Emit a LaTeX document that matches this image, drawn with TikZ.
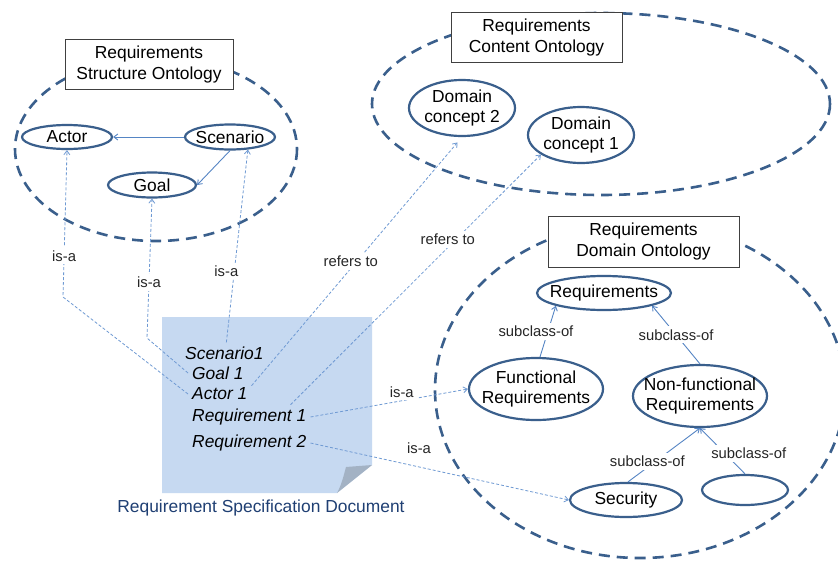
\documentclass[tikz,border=0pt]{standalone}
\usepackage{fontspec}
\setmainfont{Liberation Sans}
\usetikzlibrary{shapes.geometric,arrows.meta}
\definecolor{ontoblue}{HTML}{3A5F8C}
\definecolor{linkblue}{HTML}{6F9AD3}
\definecolor{arrblue}{HTML}{5585C4}
\definecolor{docfill}{HTML}{C6D9F1}
\definecolor{foldcol}{HTML}{A3B2C4}
\definecolor{captcol}{HTML}{1F3F73}
\begin{document}
\begin{tikzpicture}[x=1pt,y=-1pt,
  font=\fontsize{17.4}{21}\selectfont,
  group/.style={draw=ontoblue, line width=2.6pt, dash pattern=on 11pt off 7pt},
  titlebox/.style={draw=black!75, fill=white, line width=0.8pt, align=center, inner sep=0pt},
  concept/.style={ellipse, draw=ontoblue, line width=2.2pt, fill=white, inner sep=0pt},
  ctext/.style={align=center, inner sep=0pt, font=\fontsize{17.4}{20}\selectfont},
  doctext/.style={anchor=west, inner sep=4pt, font=\fontsize{17.4}{20}\selectfont\itshape},
  link/.style={draw=linkblue, line width=0.8pt, dash pattern=on 3pt off 2pt,
    -{Straight Barb[length=4pt,width=6pt]}},
  sub/.style={draw=arrblue, line width=0.9pt, -{Straight Barb[length=4pt,width=6pt]}},
  elabel/.style={fill=white, inner sep=3pt, text=black!85, font=\fontsize{14.8}{17}\selectfont}]
\useasboundingbox (0,0) rectangle (838,560);
\fill[white] (0,0) rectangle (838,560);

% ontology groups
\draw[group] (156,149) ellipse [x radius=141, y radius=92];
\draw[group] (601,104) ellipse [x radius=229, y radius=91];
\draw[group] (640,390) ellipse [x radius=205, y radius=168];

\node[titlebox, minimum width=168pt, minimum height=50pt] (tstruct) at (149,64) {Requirements\\Structure Ontology};
\node[titlebox, minimum width=171pt, minimum height=50pt] (tcontent) at (536.5,37) {Requirements\\Content Ontology};
\node[titlebox, minimum width=191pt, minimum height=51pt] (tdomain) at (643.5,241.5) {Requirements\\Domain Ontology};

% concepts
\node[concept, minimum width=90pt, minimum height=24pt, label={[ctext]center:Actor}] (actor) at (67,137) {};
\node[concept, minimum width=90pt, minimum height=25pt, label={[ctext]center:Scenario}] (scen) at (230,137) {};
\node[concept, minimum width=88pt, minimum height=25pt, label={[ctext]center:Goal}] (goal) at (152,185) {};
\node[concept, minimum width=106pt, minimum height=56pt, label={[ctext]center:Domain\\concept 2}] (dc2) at (462,108) {};
\node[concept, minimum width=106pt, minimum height=56pt, label={[ctext]center:Domain\\concept 1}] (dc1) at (581,135) {};
\node[concept, minimum width=134pt, minimum height=34pt, label={[ctext]center:Requirements}] (req) at (604,293) {};
\node[concept, minimum width=134pt, minimum height=62pt, label={[ctext]center:Functional\\Requirements}] (fr) at (536,389) {};
\node[concept, minimum width=134pt, minimum height=62pt, label={[ctext]center:Non-functional\\Requirements}] (nf) at (700,396) {};
\node[concept, minimum width=112pt, minimum height=34pt, label={[ctext]center:Security}] (sec) at (626,500) {};
\node[concept, minimum width=86pt, minimum height=30pt] (emp) at (745,490) {};

% document
\fill[docfill] (162,317) -- (372,317) -- (372,465) -- (337,493) -- (162,493) -- cycle;
\fill[foldcol] (337,493) .. controls (342,484) and (344,474) .. (346,467) -- (372,465) -- cycle;
\node[doctext] (s1) at (181,353) {Scenario1};
\node[doctext] (g1) at (188,373) {Goal 1};
\node[doctext] (a1) at (188,394) {Actor 1};
\node[doctext] (r1) at (188,417) {Requirement 1};
\node[doctext] (r2) at (188,443) {Requirement 2};
\node[text=captcol] (cap) at (261,508) {Requirement Specification Document};

% structure relations
\draw[sub] (scen.west) -- (actor.east);
\draw[sub] (scen.south) -- (goal.east);

% domain relations
\draw[sub] ([xshift=4pt]fr.north) -- node[elabel, xshift=-12pt]{subclass-of} (req.south west);
\draw[sub] (nf.north) -- node[elabel]{subclass-of} (req.south east);
\draw[sub] ([xshift=2pt]sec.north) -- node[elabel, pos=0.38, xshift=-8pt]{subclass-of} (nf.south);
\draw[sub] (emp.north) -- node[elabel, pos=0.45, xshift=24pt]{subclass-of} (nf.south);

% instance links
\coordinate (bendA) at (63,297);
\coordinate (bendG) at (147,338);
\draw[link] (a1.west) -- (bendA) -- node[elabel, pos=0.28]{is-a} (actor.south);
\draw[link] (g1.west) -- (bendG) -- node[elabel, pos=0.40]{is-a} (goal.south);
\draw[link] ([xshift=2pt]s1.north) -- node[elabel, pos=0.37, xshift=-8pt]{is-a} (scen.-35);
\draw[link, shorten >=7pt] ([yshift=-2pt]a1.north east) -- node[elabel, pos=0.5, xshift=-6pt]{refers to} (dc2.south);
\draw[link] ([xshift=-20pt]r1.north east) -- node[elabel, pos=0.66, xshift=-8pt]{refers to} (dc1.-154);
\draw[link] (r1.east) -- node[elabel, pos=0.58, yshift=9pt]{is-a} (fr.west);
\draw[link] (r2.east) -- node[elabel, pos=0.42, yshift=19pt]{is-a} (sec.west);
\end{tikzpicture}
\end{document}
